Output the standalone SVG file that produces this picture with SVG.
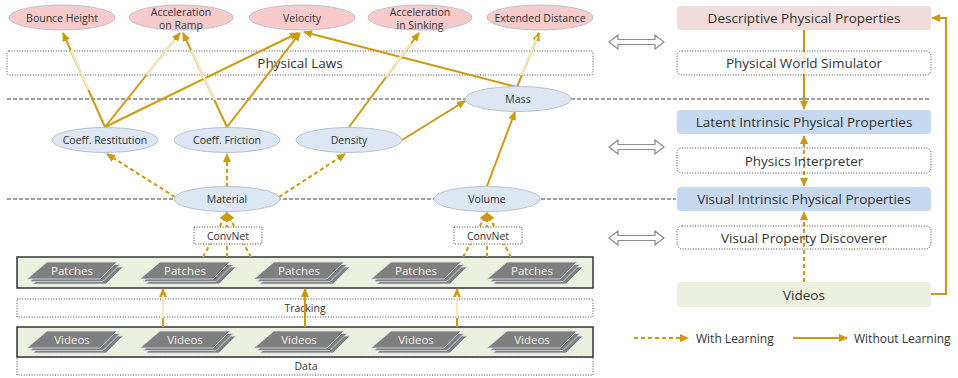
<svg xmlns="http://www.w3.org/2000/svg" xmlns:xlink="http://www.w3.org/1999/xlink" width="958" height="378" viewBox="0 0 958 378">
<style>
text{font-family:"Open Sans","Noto Sans","Liberation Sans",sans-serif;fill:#333;dominant-baseline:central;text-anchor:middle}
.t11{font-size:10.5px}
.t14{font-size:13.5px}
.pink{fill:#f8cbcb;stroke:#b9c2cc;stroke-width:1}
.blue{fill:#dce7f3;stroke:#b9c2cc;stroke-width:1}
.dot{fill:none;stroke:#444;stroke-width:1;stroke-dasharray:1 1.6}
.gdash{fill:none;stroke:#808080;stroke-width:1.5;stroke-dasharray:4 2}
.sol{fill:none;stroke:#cc9a0e;stroke-width:2;marker-end:url(#ah)}
.dsh{fill:none;stroke:#cc9a0e;stroke-width:2;stroke-dasharray:4 3;marker-end:url(#ah)}
.pale{fill:none;stroke:#f5e7c2;stroke-width:2.2}
.band{fill:#ebf1de;stroke:#333;stroke-width:1.5}
.lay{fill:#7f7f7f;stroke:#d8e0ec;stroke-width:0.8}
.st{fill:#eeeeee;font-size:11.5px}
.hollow{fill:#fff;stroke:#8c8c8c;stroke-width:1.2}
.leg{font-size:12px;text-anchor:start}
</style>
<defs>
<marker id="ah" markerWidth="9" markerHeight="8" refX="8" refY="4" orient="auto-start-reverse" markerUnits="userSpaceOnUse"><path d="M0,0 L9,4 L0,8 z" fill="#cc9a0e"/></marker>
<g id="stack">
<polygon class="lay" points="-19,-3 51,-3 34,14 -39,14"/>
<polygon class="lay" points="-22,-5.5 48,-5.5 31,11.5 -42,11.5"/>
<polygon class="lay" points="-25,-8 45,-8 28,9 -45,9"/>
</g>
<polygon id="dbl" class="hollow" points="0,0 9,-7 9,-2.5 46,-2.5 46,-7 55,0 46,7 46,2.5 9,2.5 9,7"/>
</defs>

<!-- background guides -->
<g id="guides">
<line class="gdash" x1="7" y1="99" x2="930" y2="99"/>
<line class="gdash" x1="7" y1="199" x2="676" y2="199"/>
<rect id="physical-laws" class="dot" x="7" y="51" width="586" height="24" rx="2"/>
<text class="t14" x="300" y="63">Physical Laws</text>
<rect class="dot" x="17" y="299" width="576" height="18"/>
<text class="t11" x="305" y="308">Tracking</text>
<rect class="dot" x="17" y="357" width="576" height="18"/>
<text class="t11" x="306" y="366">Data</text>
</g>

<!-- bands -->
<g id="patches-band">
<rect class="band" x="17" y="257" width="576" height="31"/>
<use xlink:href="#stack" x="72" y="270"/><text class="st" x="72" y="270">Patches</text>
<use xlink:href="#stack" x="185" y="270"/><text class="st" x="185" y="270">Patches</text>
<use xlink:href="#stack" x="299" y="270"/><text class="st" x="299" y="270">Patches</text>
<use xlink:href="#stack" x="416" y="270"/><text class="st" x="416" y="270">Patches</text>
<use xlink:href="#stack" x="532" y="270"/><text class="st" x="532" y="270">Patches</text>
</g>
<g id="videos-band">
<rect class="band" x="17" y="327" width="576" height="30"/>
<use xlink:href="#stack" x="72" y="339"/><text class="st" x="72" y="339">Videos</text>
<use xlink:href="#stack" x="185" y="339"/><text class="st" x="185" y="339">Videos</text>
<use xlink:href="#stack" x="299" y="339"/><text class="st" x="299" y="339">Videos</text>
<use xlink:href="#stack" x="416" y="339"/><text class="st" x="416" y="339">Videos</text>
<use xlink:href="#stack" x="532" y="339"/><text class="st" x="532" y="339">Videos</text>
</g>

<!-- connectors -->
<g id="connectors">
<path class="sol" d="M105,127 L63,33"/>
<path class="sol" d="M105,127 L180,33"/>
<path class="sol" d="M105,127 L298,33"/>
<path class="sol" d="M227,127 L183,33"/>
<path class="sol" d="M227,127 L300,33"/>
<path class="sol" d="M517,87 L304,32"/>
<path class="sol" d="M517,87 L539,33"/>
<path class="sol" d="M349,127 L419,33"/>
<path class="sol" d="M402,140 L465,101"/>
<path class="sol" d="M487,186 L515,112"/>
<path class="sol" d="M163,327 L163,289"/>
<path class="sol" d="M305,327 L305,289"/>
<path class="sol" d="M457,327 L457,289"/>
<path class="sol" d="M804,30 L804,109"/>
<path class="sol" d="M931,294 L946,294 L946,18 L932,18"/>
<path class="pale" d="M71,50 L88.6,90"/>
<path class="pale" d="M174.6,40 L146.6,75"/>
<path class="pale" d="M191.3,50 L214.5,100"/>
<path class="pale" d="M537,37 L521.8,75"/>
<path class="pale" d="M410.9,43 L385.8,77"/>
<path class="pale" d="M804,52 L804,74"/>
<path class="pale" d="M163,295 L163,318"/>
<path class="pale" d="M457,295 L457,318"/>
<path class="dsh" d="M175,197 L107,154"/>
<path class="dsh" d="M227,187 L227,154"/>
<path class="dsh" d="M279,197 L345,154"/>
<path class="dsh" d="M203,257 L227,213"/>
<path class="dsh" d="M227,257 L227,213"/>
<path class="dsh" d="M251,257 L227,213"/>
<path class="dsh" d="M463,257 L487,213"/>
<path class="dsh" d="M487,257 L487,213"/>
<path class="dsh" d="M511,257 L487,213"/>
<path class="dsh" d="M804,282 L804,212"/>
<path class="dsh" d="M804,136 L804,186" style="marker-start:url(#ah)"/>
</g>

<!-- top nodes -->
<g id="bounce-height"><ellipse class="pink" cx="62" cy="17.5" rx="53" ry="12.5"/><text class="t11" x="62" y="18">Bounce Height</text></g>
<g id="accel-ramp"><ellipse class="pink" cx="181" cy="17.5" rx="52" ry="12.5"/><text class="t11" x="181" y="12">Acceleration</text><text class="t11" x="181" y="24.5">on Ramp</text></g>
<g id="velocity"><ellipse class="pink" cx="302" cy="17.5" rx="53" ry="12.5"/><text class="t11" x="302" y="18">Velocity</text></g>
<g id="accel-sinking"><ellipse class="pink" cx="420" cy="17.5" rx="52" ry="12.5"/><text class="t11" x="420" y="12">Acceleration</text><text class="t11" x="420" y="24.5">in Sinking</text></g>
<g id="extended-distance"><ellipse class="pink" cx="540" cy="17.5" rx="53" ry="12.5"/><text class="t11" x="540" y="18">Extended Distance</text></g>

<!-- middle nodes -->
<g id="mass"><ellipse class="blue" cx="518" cy="99" rx="53" ry="12.5"/><text class="t11" x="518" y="99">Mass</text></g>
<g id="coeff-restitution"><ellipse class="blue" cx="105" cy="140" rx="53" ry="12.5"/><text class="t11" x="105" y="140">Coeff. Restitution</text></g>
<g id="coeff-friction"><ellipse class="blue" cx="227" cy="140" rx="53" ry="12.5"/><text class="t11" x="227" y="140">Coeff. Friction</text></g>
<g id="density"><ellipse class="blue" cx="349" cy="140" rx="53" ry="12.5"/><text class="t11" x="349" y="140">Density</text></g>
<g id="material"><ellipse class="blue" cx="227" cy="199" rx="53" ry="12.5"/><text class="t11" x="227" y="199">Material</text></g>
<g id="volume"><ellipse class="blue" cx="487" cy="199" rx="53" ry="12.5"/><text class="t11" x="487" y="199">Volume</text></g>

<g id="convnet-1"><rect class="dot" x="194" y="227" width="68" height="17" style="fill:#fff;fill-opacity:0.85"/><text class="t11" x="228" y="235.5">ConvNet</text></g>
<g id="convnet-2"><rect class="dot" x="454" y="227" width="68" height="17" style="fill:#fff;fill-opacity:0.85"/><text class="t11" x="488" y="235.5">ConvNet</text></g>

<!-- right column -->
<g id="descriptive"><rect x="677" y="6" width="254" height="24" rx="4" fill="#f2dcdb"/><text class="t14" x="804" y="18">Descriptive Physical Properties</text></g>
<g id="simulator"><rect class="dot" x="677" y="51" width="254" height="24" rx="5"/><text class="t14" x="804" y="63">Physical World Simulator</text></g>
<g id="latent"><rect x="677" y="110" width="254" height="24" rx="4" fill="#c6d9f1"/><text class="t14" x="804" y="122">Latent Intrinsic Physical Properties</text></g>
<g id="interpreter"><rect class="dot" x="677" y="148" width="254" height="25" rx="5"/><text class="t14" x="804" y="160.5">Physics Interpreter</text></g>
<g id="visual-intrinsic"><rect x="677" y="187" width="254" height="24" rx="4" fill="#c6d9f1"/><text class="t14" x="804" y="199">Visual Intrinsic Physical Properties</text></g>
<g id="discoverer"><rect class="dot" x="677" y="226" width="254" height="23" rx="5"/><text class="t14" x="804" y="237.5">Visual Property Discoverer</text></g>
<g id="videos-right"><rect x="677" y="282" width="254" height="25" rx="4" fill="#ebf1de"/><text class="t14" x="804" y="294.5">Videos</text></g>

<!-- correspondence arrows -->
<g id="correspondence">
<use xlink:href="#dbl" x="609" y="42"/>
<use xlink:href="#dbl" x="609" y="147"/>
<use xlink:href="#dbl" x="609" y="238"/>
</g>

<!-- legend -->
<g id="legend">
<path class="dsh" d="M634,338 L688,338"/>
<text class="leg" x="696" y="338">With Learning</text>
<path class="sol" d="M793,338 L847,338"/>
<text class="leg" x="854" y="338">Without Learning</text>
</g>
</svg>
